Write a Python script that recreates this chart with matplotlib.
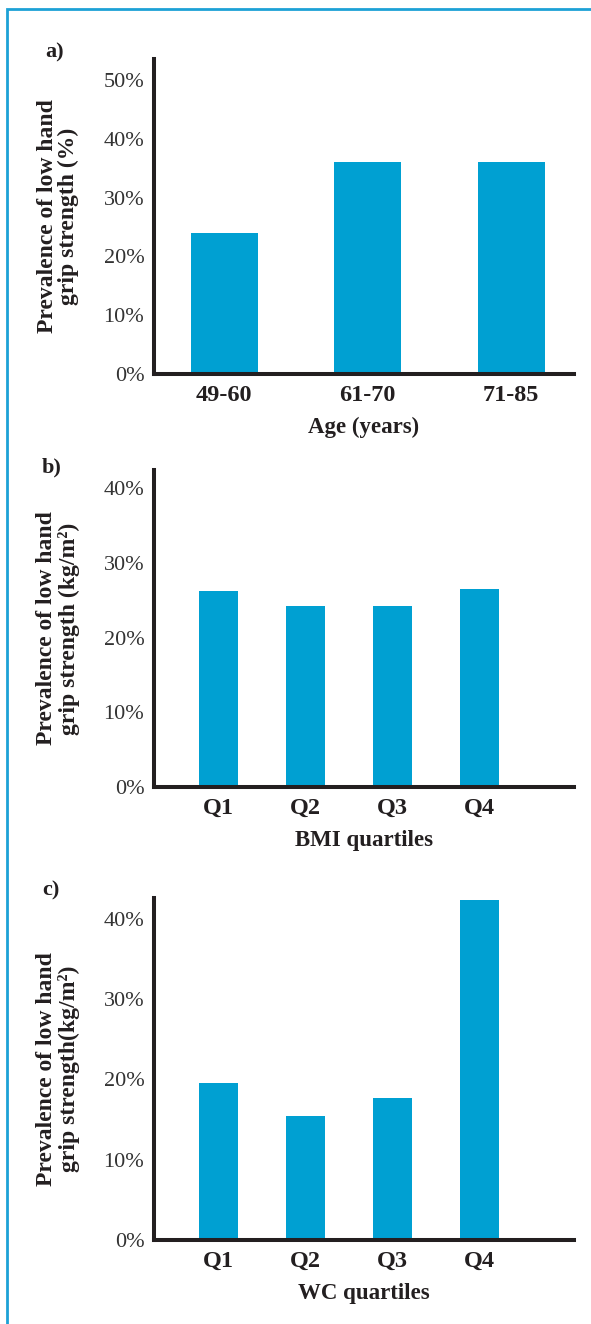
import matplotlib.pyplot as plt
from matplotlib.lines import Line2D
import numpy as np

# prevalence of low hand grip strength (%)
age_groups = ['49-60', '61-70', '71-85']
age_prev = [24.0, 36.1, 36.1]

quartiles = ['Q1', 'Q2', 'Q3', 'Q4']
bmi_prev = [26.2, 24.2, 24.2, 26.5]
wc_prev = [19.6, 15.5, 17.7, 42.3]

bar_color = '#00a0d2'
ink = '#231f20'
frame_blue = '#1da1d6'

plt.rcParams['font.family'] = ['Liberation Serif', 'DejaVu Serif']

W, H = 591, 1324
fig = plt.figure(figsize=(W / 100, H / 100), dpi=100)


def px_axes(left, top, right, bottom):
    return fig.add_axes([left / W, 1 - bottom / H, (right - left) / W, (bottom - top) / H])


def style(ax, cats, xlabel, xlim, ylim, yticks):
    ax.set_xlim(*xlim)
    ax.set_ylim(*ylim)
    ax.set_xticks(range(len(cats)))
    ax.set_xticklabels(cats, fontsize=17.5, fontweight='bold', color=ink)
    ax.set_yticks(yticks)
    ax.set_yticklabels([f'{t}%' for t in yticks], fontsize=16, color='#333333')
    ax.tick_params(length=0)
    ax.tick_params(axis='x', pad=8)
    ax.tick_params(axis='y', pad=7)
    for s in ['top', 'right']:
        ax.spines[s].set_visible(False)
    for s in ['left', 'bottom']:
        ax.spines[s].set_linewidth(2.9)
        ax.spines[s].set_color(ink)
    ax.set_xlabel(xlabel, fontsize=16.5, fontweight='bold', color=ink, labelpad=8)


def ylabel(ax, text):
    pos = ax.get_position()
    fig.text(58 / W, pos.y0 + pos.height / 2, text, rotation=90, ha='center', va='center',
             fontsize=17, fontweight='bold', color=ink, multialignment='center',
             linespacing=1.05)


# a) age groups
ax1 = px_axes(154, 59, 574, 374)
ax1.bar(range(len(age_groups)), age_prev, width=0.467, color=bar_color, zorder=1)
style(ax1, age_groups, 'Age (years)', (-0.488, 2.439), (0, 53.6), [0, 10, 20, 30, 40, 50])
ylabel(ax1, 'Prevalence of low hand\ngrip strength (%)')

# b) BMI quartiles
ax2 = px_axes(154, 470, 574, 787)
ax2.bar(range(len(quartiles)), bmi_prev, width=0.45, color=bar_color, zorder=1)
style(ax2, quartiles, 'BMI quartiles', (-0.746, 4.087), (0, 42.45), [0, 10, 20, 30, 40])
ylabel(ax2, 'Prevalence of low hand\ngrip strength (kg/m²)')

# c) WC quartiles
ax3 = px_axes(154, 898, 574, 1240)
ax3.bar(range(len(quartiles)), wc_prev, width=0.45, color=bar_color, zorder=1)
style(ax3, quartiles, 'WC quartiles', (-0.746, 4.087), (0, 42.6), [0, 10, 20, 30, 40])
ylabel(ax3, 'Prevalence of low hand\ngrip strength(kg/m²)')

# panel letters
for lbl, (x, y) in zip(['a)', 'b)', 'c)'], [(55, 52), (52, 467), (51, 890)]):
    fig.text(x / W, 1 - y / H, lbl, ha='center', va='center', fontsize=16,
             fontweight='bold', color=ink)

# blue frame along top and left edge
fig.add_artist(Line2D([7 / W, 7 / W, 1.0], [0.0, 1 - 8.5 / H, 1 - 8.5 / H],
                      transform=fig.transFigure, color=frame_blue, lw=2.0,
                      solid_joinstyle='miter'))

fig.savefig('out.png', dpi=100, facecolor='white')
